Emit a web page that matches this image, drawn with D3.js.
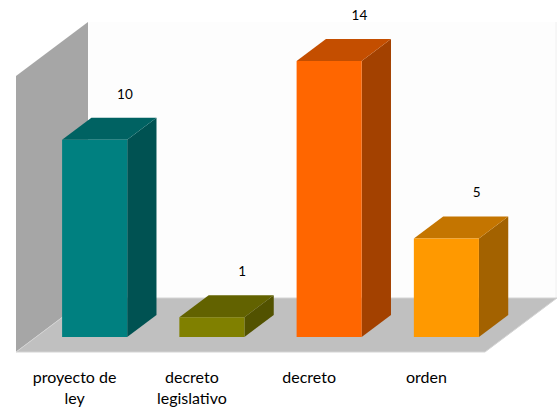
<!DOCTYPE html>
<html>
<head>
<meta charset="utf-8">
<script src="https://cdn.jsdelivr.net/npm/d3@7"></script>
<style>
  body { margin: 0; background: #fff; }
  text { font-family: Lato, "Open Sans", sans-serif; fill: #000; }
</style>
</head>
<body>
<div class="canvas"></div>
<script>
// chart data
const categories = ['proyecto de ley', 'decreto legislativo', 'decreto', 'orden'];
const tickLines = [['proyecto de', 'ley'], ['decreto', 'legislativo'], ['decreto'], ['orden']];
const values = [10, 1, 14, 5];
const frontColors = ['#008080', '#808000', '#ff6600', '#ff9900'];
const topColors = ['#006262', '#626200', '#c44e00', '#c47500'];
const sideColors = ['#005252', '#525200', '#a34100', '#a36200'];
const yTicks = [0, 14];

// set up dimensions
const width = 558;
const height = 408;
const origin = { x: 16, y: 352 }; // front-left corner of the floor
const floorWidth = 469;
const depth = { dx: 72, dy: -54 }; // full floor depth offset
const barZ = [0.278, 0.685]; // bar front/back as share of floor depth
const wallHeight = 276;

const svg = d3
  .select('.canvas')
  .append('svg')
  .attr('width', width)
  .attr('height', height);

// scales
const x = d3
  .scaleBand()
  .domain(categories)
  .range([0, floorWidth])
  .paddingInner(0.445)
  .paddingOuter(0.2225);

const y = d3.scaleLinear().domain(d3.extent(yTicks)).range([0, wallHeight]);

// project (x along front, h up, z into depth) onto the screen
const proj = (px, h, z) => [origin.x + px + z * depth.dx, origin.y - h + z * depth.dy];
const poly = pts => 'M' + pts.map(p => p.join(',')).join('L') + 'Z';

// back wall (almost white) with a faint right edge
svg
  .append('path')
  .attr('d', poly([proj(0, 0, 1), proj(0, y(14), 1), proj(floorWidth, y(14), 1), proj(floorWidth, 0, 1)]))
  .attr('fill', '#fdfdfd');

svg
  .append('line')
  .attr('x1', proj(floorWidth, y(14), 1)[0] - 1)
  .attr('x2', proj(floorWidth, 0, 1)[0] - 1)
  .attr('y1', proj(floorWidth, y(14), 1)[1])
  .attr('y2', proj(floorWidth, 0, 1)[1])
  .attr('stroke', '#f0f0f0');

// side wall
svg
  .append('path')
  .attr('d', poly([proj(0, 0, 0), proj(0, y(14), 0), proj(0, y(14), 1), proj(0, 0, 1)]))
  .attr('fill', '#a6a6a6');

// floor
svg
  .append('path')
  .attr('d', poly([proj(0, 0, 0), proj(floorWidth, 0, 0), proj(floorWidth, 0, 1), proj(0, 0, 1)]))
  .attr('fill', '#c0c0c0')
  .attr('stroke', '#d4d4d4')
  .attr('stroke-width', 1);

// bars
const bars = svg
  .selectAll('g.bar')
  .data(values)
  .enter()
  .append('g')
  .attr('class', 'bar');

bars
  .append('path')
  .attr('d', (d, i) => {
    const x1 = x(categories[i]) + x.bandwidth();
    return poly([proj(x1, 0, barZ[0]), proj(x1, y(d), barZ[0]), proj(x1, y(d), barZ[1]), proj(x1, 0, barZ[1])]);
  })
  .attr('fill', (d, i) => sideColors[i]);

bars
  .append('path')
  .attr('d', (d, i) => {
    const x0 = x(categories[i]);
    const x1 = x0 + x.bandwidth();
    return poly([proj(x0, y(d), barZ[0]), proj(x1, y(d), barZ[0]), proj(x1, y(d), barZ[1]), proj(x0, y(d), barZ[1])]);
  })
  .attr('fill', (d, i) => topColors[i]);

bars
  .append('path')
  .attr('d', (d, i) => {
    const x0 = x(categories[i]);
    const x1 = x0 + x.bandwidth();
    return poly([proj(x0, 0, barZ[0]), proj(x1, 0, barZ[0]), proj(x1, y(d), barZ[0]), proj(x0, y(d), barZ[0])]);
  })
  .attr('fill', (d, i) => frontColors[i]);

// value labels
bars
  .append('text')
  .attr('x', (d, i) => proj(x(categories[i]) + x.bandwidth() / 2, y(d), barZ[1])[0] + 1)
  .attr('y', (d, i) => proj(0, y(d), barZ[1])[1] - 19)
  .attr('text-anchor', 'middle')
  .attr('font-size', 13.5)
  .text(d => d);

// category labels
const labels = svg
  .selectAll('text.cat')
  .data(categories)
  .enter()
  .append('text')
  .attr('class', 'cat')
  .attr('text-anchor', 'middle')
  .attr('font-size', 16);

labels
  .selectAll('tspan')
  .data((d, i) => tickLines[i].map(t => ({ t, cx: origin.x + x(d) - x.step() * x.paddingInner() / 2 + x.step() / 2 })))
  .enter()
  .append('tspan')
  .attr('x', d => d.cx)
  .attr('y', (d, j) => 383 + j * 21)
  .text(d => d.t);
</script>
</body>
</html>
